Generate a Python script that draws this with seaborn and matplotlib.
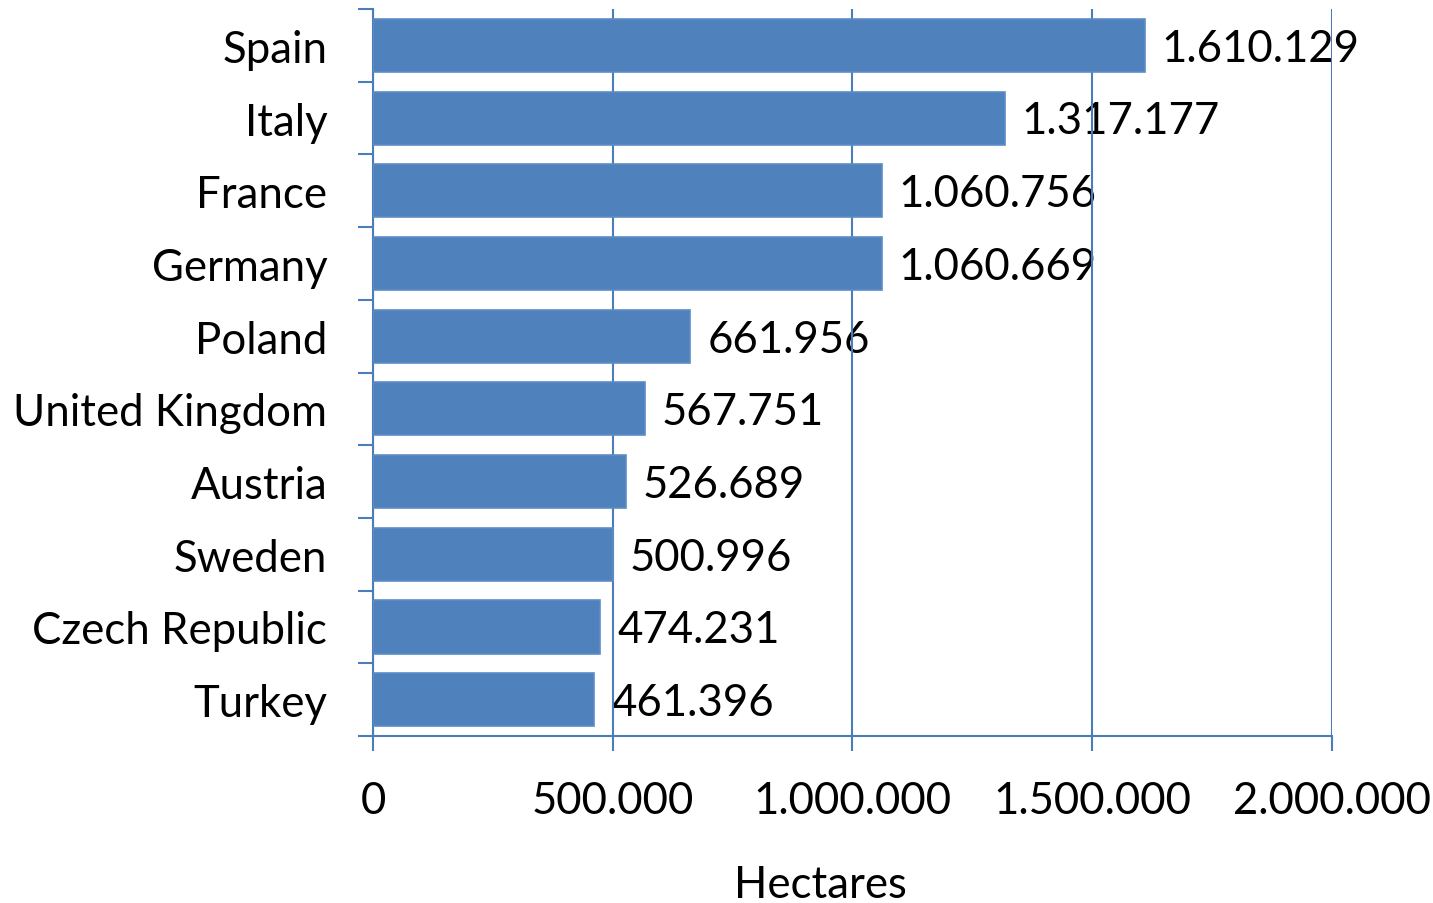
import matplotlib
matplotlib.use("Agg")
import matplotlib.pyplot as plt
import seaborn as sns
import pandas as pd
import numpy as np

countries = ["Spain", "Italy", "France", "Germany", "Poland", "United Kingdom",
             "Austria", "Sweden", "Czech Republic", "Turkey"]
hectares = [1610129, 1317177, 1060756, 1060669, 661956, 567751,
            526689, 500996, 474231, 461396]
x_ticks = [0, 500000, 1000000, 1500000, 2000000]

def dotted(v):
    return f"{v:,}".replace(",", ".")

sns.set_theme(style="white")
plt.rcParams["font.family"] = ["Lato", "DejaVu Sans"]

FS = 31.5

df = pd.DataFrame({"country": countries, "hectares": hectares})

fig = plt.figure(figsize=(14.33, 9.04), dpi=100)
ax = fig.add_axes([0.2603, 0.1847, 0.9295 - 0.2603, 0.9889 - 0.1847])

line_col = "#4A7EBB"
bar_col = "#4F81BD"

sns.barplot(data=df, x="hectares", y="country", orient="h", color=bar_col,
            saturation=1, width=0.73, edgecolor="#5C8CC6", linewidth=1.2,
            ax=ax, zorder=3)

ax.set_xlim(0, 2000000)
ax.set_ylim(len(countries) - 0.5, -0.5)
ax.set_xticks(x_ticks)
ax.set_xticklabels([dotted(t) for t in x_ticks])

ax.set_axisbelow(True)
ax.grid(axis="x", color=line_col, linewidth=1.5)
ax.grid(axis="y", visible=False)

for s in ["top", "right"]:
    ax.spines[s].set_visible(False)
for s in ["left", "bottom"]:
    ax.spines[s].set_color(line_col)
    ax.spines[s].set_linewidth(1.5)

# category boundaries carry the y tick marks
ax.set_yticks(np.arange(-0.5, len(countries) + 0.5, 1.0), minor=True)
ax.tick_params(axis="y", which="minor", direction="out", length=11,
               width=1.5, color=line_col, left=True)
ax.tick_params(axis="y", which="major", length=0, pad=33, labelsize=FS)
ax.tick_params(axis="x", which="major", direction="out", length=11,
               width=1.5, color=line_col, bottom=True, pad=21, labelsize=FS)

for i, v in enumerate(hectares):
    ax.text(v + 35000, i + 0.04, dotted(v), va="center", ha="left",
            fontsize=FS, color="black", zorder=0.4)

ax.set_xlabel("Hectares", fontsize=FS, color="black")
ax.xaxis.set_label_coords(0.467, -0.2036)
ax.xaxis.label.set_va("center")
ax.set_ylabel("")

for lbl in ax.get_xticklabels() + ax.get_yticklabels():
    lbl.set_color("black")

fig.savefig("out.png", dpi=100, facecolor="white")
